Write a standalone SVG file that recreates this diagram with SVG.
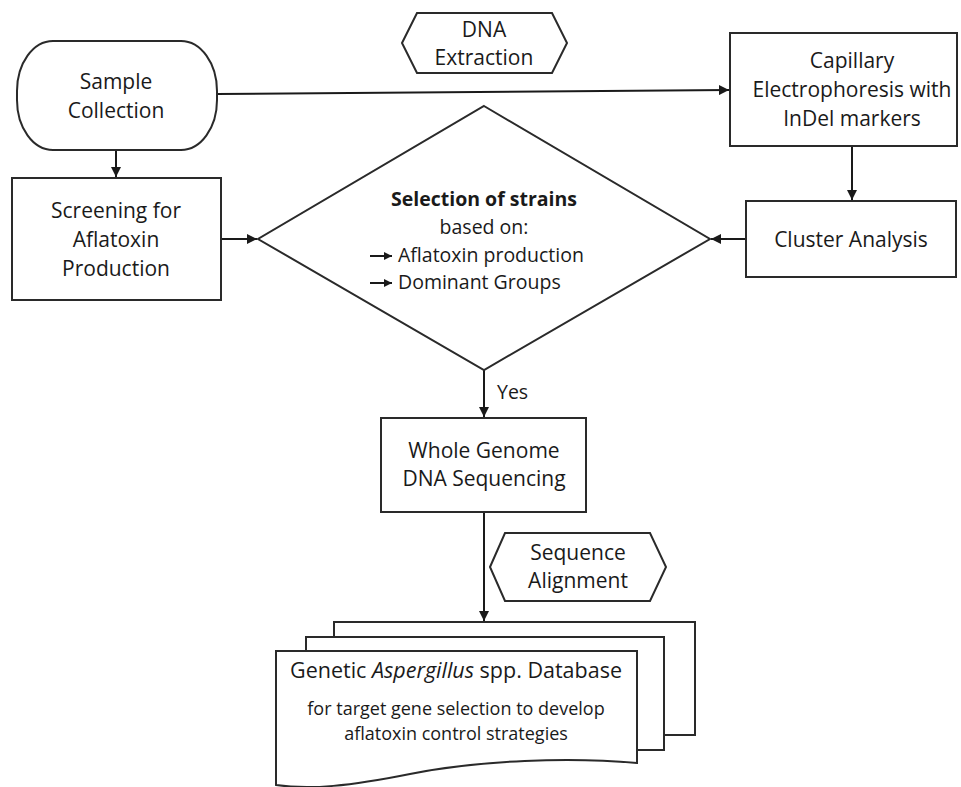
<svg xmlns="http://www.w3.org/2000/svg" width="961" height="787" viewBox="0 0 961 787">
<defs>
<marker id="ah" viewBox="0 0 10 10" refX="10" refY="5" markerWidth="10" markerHeight="10" markerUnits="userSpaceOnUse" orient="auto">
<path d="M0,0 L10,5 L0,10 Z" fill="#1a1a1a"/>
</marker>
<marker id="sah" viewBox="0 0 10 10" refX="10" refY="5" markerWidth="8" markerHeight="8" markerUnits="userSpaceOnUse" orient="auto">
<path d="M0,0 L10,5 L0,10 Z" fill="#1a1a1a"/>
</marker>
<style>
.s{fill:#fff;stroke:#2a2a2a;stroke-width:2}
.t{font-family:"Open Sans","Noto Sans",sans-serif;font-size:21px;fill:#1a1a1a;text-anchor:middle}
.m{font-size:19.5px}
.sm{font-size:18px}
.db{font-size:21.5px}
.c{fill:none;stroke:#1a1a1a;stroke-width:2}
</style>
</defs>
<rect width="961" height="787" fill="#fff"/>

<g id="connectors">
<line class="c" x1="116" y1="150" x2="116" y2="177" marker-end="url(#ah)"/>
<line class="c" x1="217" y1="94" x2="729" y2="90" marker-end="url(#ah)"/>
<line class="c" x1="852" y1="146" x2="852" y2="200" marker-end="url(#ah)"/>
<line class="c" x1="221" y1="239" x2="257" y2="239" marker-end="url(#ah)"/>
<line class="c" x1="747" y1="239" x2="711" y2="239" marker-end="url(#ah)"/>
<line class="c" x1="484" y1="370" x2="484" y2="417" marker-end="url(#ah)"/>
<line class="c" x1="484" y1="512" x2="484" y2="621" marker-end="url(#ah)"/>
</g>

<g id="dna-extraction">
<polygon class="s" points="402,43 417,13 552,13 567,43 552,73 417,73"/>
<text class="t" x="484" y="37">DNA</text>
<text class="t" x="484" y="65">Extraction</text>
</g>

<g id="sample-collection">
<rect class="s" x="17" y="41" width="200" height="109" rx="36" ry="50"/>
<text class="t" x="116" y="89">Sample</text>
<text class="t" x="116" y="118">Collection</text>
</g>

<g id="capillary">
<rect class="s" x="730" y="33" width="227" height="113"/>
<text class="t" x="852" y="68">Capillary</text>
<text class="t" x="852" y="97">Electrophoresis with</text>
<text class="t" x="852" y="126">InDel markers</text>
</g>

<g id="screening">
<rect class="s" x="12" y="178" width="209" height="122"/>
<text class="t" x="116" y="218">Screening for</text>
<text class="t" x="116" y="247">Aflatoxin</text>
<text class="t" x="116" y="276">Production</text>
</g>

<g id="cluster">
<rect class="s" x="746" y="201" width="210" height="76"/>
<text class="t" x="851" y="247">Cluster Analysis</text>
</g>

<g id="selection">
<polygon class="s" points="484,106 710,239 484,370 258,239"/>
<text class="t m" x="484" y="206" font-weight="bold">Selection of strains</text>
<text class="t m" x="484" y="234">based on:</text>
<line class="c" x1="370" y1="256" x2="392" y2="256" stroke-width="1.6" marker-end="url(#sah)"/>
<text class="t m" x="398" y="262" style="text-anchor:start">Aflatoxin production</text>
<line class="c" x1="370" y1="283" x2="392" y2="283" stroke-width="1.6" marker-end="url(#sah)"/>
<text class="t m" x="398" y="289" style="text-anchor:start">Dominant Groups</text>
<text class="t m" x="497" y="399" style="text-anchor:start">Yes</text>
</g>

<g id="wgs">
<rect class="s" x="381" y="418" width="205" height="94"/>
<text class="t" x="484" y="458">Whole Genome</text>
<text class="t" x="484" y="486">DNA Sequencing</text>
</g>

<g id="sequence-alignment">
<polygon class="s" points="490,567 505,533 650,533 666,567 650,601 505,601"/>
<text class="t" x="578" y="560">Sequence</text>
<text class="t" x="578" y="588">Alignment</text>
</g>

<g id="database">
<rect class="s" x="334" y="622" width="361" height="113"/>
<rect class="s" x="306" y="637" width="358" height="113"/>
<path class="s" d="M276,651 H637 V763 C570,757 480,760 410,774 C350,786 310,790 276,785 Z"/>
<text class="t db" x="456" y="678">Genetic <tspan font-style="italic">Aspergillus</tspan> spp. Database</text>
<text class="t sm" x="456" y="715">for target gene selection to develop</text>
<text class="t sm" x="456" y="740">aflatoxin control strategies</text>
</g>
</svg>
